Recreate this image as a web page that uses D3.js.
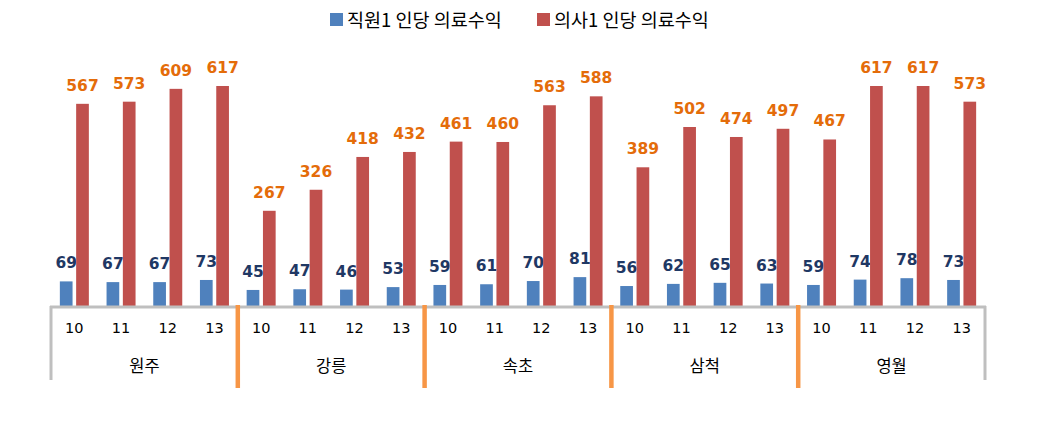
<!DOCTYPE html>
<html><head><meta charset="utf-8">
<script src="https://cdn.jsdelivr.net/npm/d3@7"></script>
<style>body{margin:0;background:#fff}svg{display:block}</style>
</head><body><svg id="c" width="1058" height="424"></svg>
<script>
const groups = ["원주","강릉","속초","삼척","영월"];
const years = ["10","11","12","13"];
const staffRevenue = [69,67,67,73, 45,47,46,53, 59,61,70,81, 56,62,65,63, 59,74,78,73];
const doctorRevenue = [567,573,609,617, 267,326,418,432, 461,460,563,588, 389,502,474,497, 467,617,617,573];
const seriesNames = ["직원1 인당 의료수익","의사1 인당 의료수익"];

const colors = ["#4F81BD","#C0504D"];
const labelColors = ["#1F3864","#E46C0A"];
const svg = d3.select("#c");
const left = 51, right = 985, base = 306;
const cats = [];
groups.forEach((g,gi)=>years.forEach((y,yi)=>cats.push({g,y,i:gi*4+yi})));
const x = d3.scaleBand().domain(cats.map(d=>d.i)).range([left,right]).padding(0);
const y = d3.scaleLinear().domain([0,700]).range([base, base-249.6]);
const bw = 12.7, gap = 3.6;

// bars
[staffRevenue, doctorRevenue].forEach((vals,s)=>{
  const off = s===0 ? -gap/2 - bw : gap/2;
  svg.append("g").selectAll("rect").data(vals).join("rect")
    .attr("x",(d,i)=>x(i)+x.bandwidth()/2+off)
    .attr("y",d=>y(d)).attr("width",bw).attr("height",d=>base-y(d))
    .attr("fill",colors[s]);
  svg.append("g").selectAll("text").data(vals).join("text")
    .attr("x",(d,i)=>x(i)+x.bandwidth()/2+off+bw/2)
    .attr("y",d=>y(d)-13)
    .attr("text-anchor","middle")
    .attr("font-family","DejaVu Sans").attr("font-weight","bold").attr("font-size",15.5)
    .attr("fill",labelColors[s]).text(d=>d);
});

// axis line
svg.append("line").attr("x1",left-1).attr("x2",right+1).attr("y1",base+1).attr("y2",base+1)
  .attr("stroke","#BFBFBF").attr("stroke-width",3);
// borders
[left,right].forEach(px=>svg.append("line").attr("x1",px).attr("x2",px).attr("y1",base).attr("y2",380)
  .attr("stroke","#BFBFBF").attr("stroke-width",3));
const gx = d3.scaleBand().domain(groups).range([left,right]);
groups.slice(1).forEach(g=>svg.append("line").attr("x1",gx(g)).attr("x2",gx(g)).attr("y1",305).attr("y2",388)
  .attr("stroke","#F79646").attr("stroke-width",4.5));

// year labels
svg.append("g").selectAll("text").data(cats).join("text")
  .attr("x",d=>x(d.i)+x.bandwidth()/2).attr("y",333)
  .attr("text-anchor","middle").attr("font-family","DejaVu Sans").attr("font-size",14.5)
  .attr("fill","#000").text(d=>d.y);
// group labels
svg.append("g").selectAll("text").data(groups).join("text")
  .attr("x",d=>gx(d)+gx.bandwidth()/2).attr("y",372)
  .attr("text-anchor","middle").attr("font-family","Noto Sans CJK KR").attr("font-size",16.5)
  .attr("fill","#000").text(d=>d);

// legend
const lx = [330,537];
seriesNames.forEach((n,s)=>{
  svg.append("rect").attr("x",lx[s]).attr("y",13).attr("width",13).attr("height",13).attr("fill",colors[s]);
  svg.append("text").attr("x",lx[s]+17).attr("y",26.5).attr("font-family","Noto Sans CJK KR")
    .attr("font-size",18.5).attr("fill","#000").text(n);
});
</script></body></html>
